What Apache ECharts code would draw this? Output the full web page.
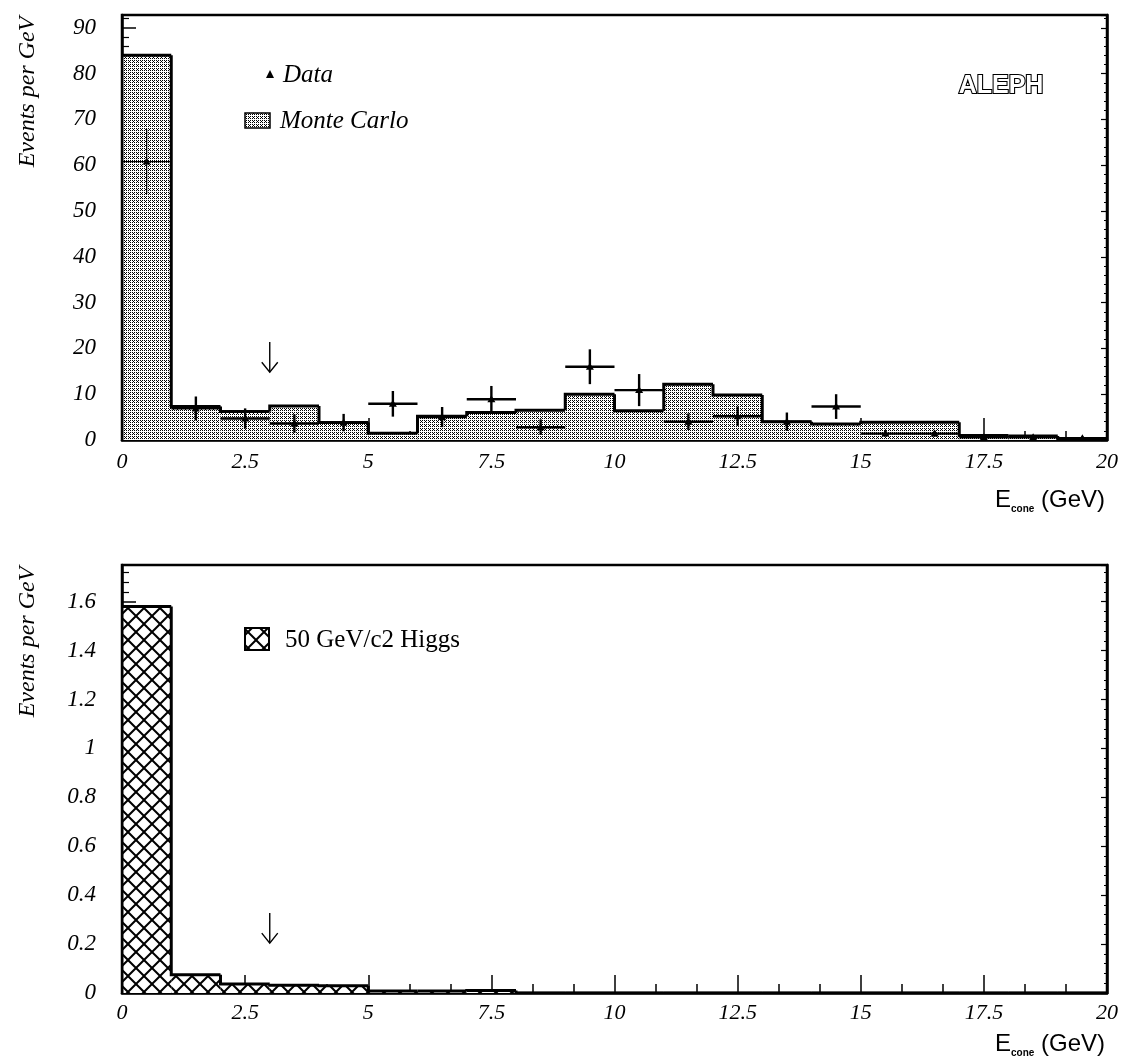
<!DOCTYPE html>
<html><head><meta charset="utf-8">
<script src="https://cdn.jsdelivr.net/npm/echarts@6.0.0/dist/echarts.min.js"></script>
<style>html,body{margin:0;padding:0;background:#fff}#c{width:1126px;height:1064px}</style>
</head><body><div id="c"></div>
<script>
// ---- data ----
const binLow = [0,1,2,3,4,5,6,7,8,9,10,11,12,13,14,15,16,17,18,19];
const binHigh = [1,2,3,4,5,6,7,8,9,10,11,12,13,14,15,16,17,18,19,20];
const mcValues = [84,7.3,6.2,7.4,3.8,1.5,5.2,6.0,6.5,10.0,6.4,12.2,9.8,4.0,3.5,3.9,3.9,1.0,0.9,0.3];
const dataCenters = [0.5,1.5,2.5,3.5,4.5,5.5,6.5,7.5,8.5,9.5,10.5,11.5,12.5,13.5,14.5,15.5,16.5,17.5,18.5,19.5];
const dataValues = [60.8,6.9,4.7,3.6,3.8,7.9,5.0,8.9,2.8,16.0,10.9,4.0,5.2,4.0,7.3,1.4,1.4,0.6,0.6,0.4];
const dataErrors = [7.1,2.6,2.2,2.0,1.9,2.8,2.2,2.9,1.7,3.8,3.5,1.8,2.1,2.0,2.7,0.6,0.6,0.5,0.5,0.4];
const higgsValues = [1.58,0.075,0.037,0.032,0.030,0.008,0.008,0.010,0,0,0,0,0,0,0,0,0,0,0,0];
const xTickLabels = [0,2.5,5,7.5,10,12.5,15,17.5,20];
const topYTickLabels = [0,10,20,30,40,50,60,70,80,90];
const bottomYTickLabels = [0,0.2,0.4,0.6,0.8,1,1.2,1.4,1.6];
const cutEnergy = 3;
const topArrow = [21.4, 14.8];
const bottomArrow = [0.327, 0.204];

// ---- patterns ----
function stipple(){
  const c=document.createElement('canvas');c.width=4;c.height=4;
  const g=c.getContext('2d');g.fillStyle='#fff';g.fillRect(0,0,4,4);g.fillStyle='#000';
  [[0,0],[2,0],[1,1],[0,2],[2,2]].forEach(p=>g.fillRect(p[0],p[1],1,1));
  return {image:c,repeat:'repeat'};
}
function crosshatch(){
  const s=16;const c=document.createElement('canvas');c.width=s;c.height=s;
  const g=c.getContext('2d');g.fillStyle='#fff';g.fillRect(0,0,s,s);
  g.strokeStyle='#000';g.lineWidth=2;
  for(const k of [-s,0,s]){g.beginPath();g.moveTo(k,0);g.lineTo(k+s,s);g.stroke();
    g.beginPath();g.moveTo(k,s);g.lineTo(k+s,0);g.stroke();}
  return {image:c,repeat:'repeat'};
}
const mcFill = stipple();
const hgFill = crosshatch();

const serif = 'Liberation Serif';
const sans = 'Liberation Sans';

function histData(vals){
  return vals.map((v,i)=>[binLow[i],binHigh[i],v,i>0?vals[i-1]:0, i===vals.length-1?1:0]);
}
function histRender(fill){
  return function(params, api){
    const x0=api.value(0),x1=api.value(1),v=api.value(2),pv=api.value(3),last=api.value(4);
    const p0=api.coord([x0,0]),p1=api.coord([x1,v]),pp=api.coord([x0,pv]),pe=api.coord([x1,0]);
    const children=[];
    if(v>0) children.push({type:'rect',shape:{x:p0[0],y:p1[1],width:p1[0]-p0[0],height:p0[1]-p1[1]},style:{fill:fill}});
    const pts=[[p0[0],pp[1]],[p0[0],p1[1]],[p1[0],p1[1]]];
    if(last) pts.push([pe[0],pe[1]]);
    children.push({type:'polyline',shape:{points:pts},style:{stroke:'#000',lineWidth:3,fill:null}});
    return {type:'group',children};
  };
}
function arrowRender(params, api){
  const x=api.value(0);
  const a=api.coord([x,api.value(1)]), b=api.coord([x,api.value(2)]);
  return {type:'group',children:[
    {type:'line',shape:{x1:a[0],y1:a[1],x2:b[0],y2:b[1]},style:{stroke:'#000',lineWidth:1.4}},
    {type:'polyline',shape:{points:[[b[0]-8,b[1]-10],[b[0],b[1]],[b[0]+8,b[1]-10]]},style:{stroke:'#000',lineWidth:1.4,fill:null}}
  ]};
}
const dataPts = dataCenters.map((x,i)=>[x,dataValues[i],dataErrors[i],0.5]);
function errRender(params, api){
  const x=api.value(0),v=api.value(1),e=api.value(2),hw=api.value(3);
  const c=api.coord([x,v]),l=api.coord([x-hw,v]),r=api.coord([x+hw,v]);
  const t=api.coord([x,v+e]),b=api.coord([x,Math.max(0,v-e)]);
  const w = params.dataIndex===0?1.3:2.4;
  return {type:'group',children:[
    {type:'line',shape:{x1:l[0],y1:l[1],x2:r[0],y2:r[1]},style:{stroke:'#000',lineWidth:w}},
    {type:'line',shape:{x1:t[0],y1:t[1],x2:b[0],y2:b[1]},style:{stroke:'#000',lineWidth:w}},
    {type:'polygon',shape:{points:[[c[0],c[1]-4],[c[0]-4,c[1]+3],[c[0]+4,c[1]+3]]},style:{fill:'#000'}}
  ]};
}

function xAxis(gi){
  return {type:'value',gridIndex:gi,min:0,max:20,interval:2.5,position:'bottom',
    axisLine:{show:true,onZero:false,lineStyle:{color:'#000',width:2.5}},
    axisTick:{show:true,inside:true,length:gi===0?22:18,lineStyle:{color:'#000',width:1.5}},
    minorTick:{show:true,splitNumber:3,length:9,lineStyle:{color:'#000',width:1.5}},
    splitLine:{show:false},
    axisLabel:{margin:gi===0?11:9,fontFamily:serif,fontStyle:'italic',fontSize:22,color:'#000',
      formatter:v=>xTickLabels.includes(v)?String(v):''}};
}
function yAxis(gi,max,interval,labels){
  return {type:'value',gridIndex:gi,min:0,max:max,interval:interval,
    axisLine:{show:true,lineStyle:{color:'#000',width:2.5}},
    axisTick:{show:true,inside:true,length:14,lineStyle:{color:'#000',width:1.5}},
    minorTick:{show:true,splitNumber:5,length:7,lineStyle:{color:'#000',width:1.2}},
    splitLine:{show:false},
    axisLabel:{margin:26,fontFamily:serif,fontStyle:'italic',fontSize:23,color:'#000',showMaxLabel:false,
      formatter:v=>{const m=labels.find(l=>Math.abs(l-v)<1e-6);return m===undefined?'':String(m);}}};
}
function yAxisRight(gi,max,interval){
  return {type:'value',gridIndex:gi,min:0,max:max,interval:interval,position:'right',
    axisLine:{show:true,lineStyle:{color:'#000',width:2.5}},
    axisTick:{show:true,inside:true,length:6,lineStyle:{color:'#000',width:1.2}},
    minorTick:{show:true,splitNumber:5,length:3,lineStyle:{color:'#000',width:1}},
    splitLine:{show:false},axisLabel:{show:false}};
}

const chart = echarts.init(document.getElementById('c'),null,{renderer:'canvas'});
chart.setOption({
  animation:false,
  backgroundColor:'#fff',
  grid:[
    {left:122,top:15,width:985,height:425,show:true,borderColor:'#000',borderWidth:2.5},
    {left:122,top:565,width:985,height:428,show:true,borderColor:'#000',borderWidth:2.5}
  ],
  xAxis:[xAxis(0),xAxis(1)],
  yAxis:[yAxis(0,92.8,10,topYTickLabels),yAxis(1,1.75,0.2,bottomYTickLabels),yAxisRight(0,92.8,10),yAxisRight(1,1.75,0.2)],
  series:[
    {type:'custom',xAxisIndex:0,yAxisIndex:0,data:histData(mcValues),renderItem:histRender(mcFill),clip:true,z:2},
    {type:'custom',xAxisIndex:0,yAxisIndex:0,data:dataPts,renderItem:errRender,clip:true,z:3},
    {type:'custom',xAxisIndex:0,yAxisIndex:0,data:[[cutEnergy,topArrow[0],topArrow[1]]],renderItem:arrowRender,z:3},
    {type:'custom',xAxisIndex:1,yAxisIndex:1,data:histData(higgsValues),renderItem:histRender(hgFill),clip:true,z:2},
    {type:'custom',xAxisIndex:1,yAxisIndex:1,data:[[cutEnergy,bottomArrow[0],bottomArrow[1]]],renderItem:arrowRender,z:3}
  ],
  graphic:[
    {type:'text',x:28,y:92,rotation:Math.PI/2,style:{text:'Events per GeV',fontFamily:serif,fontStyle:'italic',fontSize:24,fill:'#000',align:'center',verticalAlign:'middle'}},
    {type:'text',x:28,y:642,rotation:Math.PI/2,style:{text:'Events per GeV',fontFamily:serif,fontStyle:'italic',fontSize:24,fill:'#000',align:'center',verticalAlign:'middle'}},
    {type:'polygon',shape:{points:[[270,70],[266,78],[274,78]]},style:{fill:'#000'}},
    {type:'text',x:283,y:75,style:{text:'Data',fontFamily:serif,fontStyle:'italic',fontSize:25,fill:'#000',verticalAlign:'middle'}},
    {type:'rect',shape:{x:245,y:113,width:25,height:15},style:{fill:mcFill,stroke:'#000',lineWidth:1.5}},
    {type:'text',x:280,y:121,style:{text:'Monte Carlo',fontFamily:serif,fontStyle:'italic',fontSize:25,fill:'#000',verticalAlign:'middle'}},
    {type:'text',x:1001,y:86,style:{text:'ALEPH',fontFamily:sans,fontWeight:'bold',fontSize:25,fill:'#fff',stroke:'#000',lineWidth:2.2,align:'center',verticalAlign:'middle'}},
    {type:'text',x:1105,y:500,style:{text:'{e|E}{s|cone}{e| (GeV)}',align:'right',verticalAlign:'middle',rich:{e:{fontFamily:sans,fontSize:24,fill:'#000',lineHeight:28},s:{fontFamily:sans,fontSize:10,fontWeight:'bold',fill:'#000',lineHeight:28,verticalAlign:'bottom',padding:[12,0,0,0]}}}},
    {type:'text',x:1105,y:1044,style:{text:'{e|E}{s|cone}{e| (GeV)}',align:'right',verticalAlign:'middle',rich:{e:{fontFamily:sans,fontSize:24,fill:'#000',lineHeight:28},s:{fontFamily:sans,fontSize:10,fontWeight:'bold',fill:'#000',lineHeight:28,verticalAlign:'bottom',padding:[12,0,0,0]}}}},
    {type:'rect',shape:{x:245,y:628,width:24,height:22},style:{fill:hgFill,stroke:'#000',lineWidth:2}},
    {type:'text',x:285,y:640,style:{text:'50 GeV/c2 Higgs',fontFamily:serif,fontSize:25,fill:'#000',verticalAlign:'middle'}}
  ]
});
</script></body></html>
